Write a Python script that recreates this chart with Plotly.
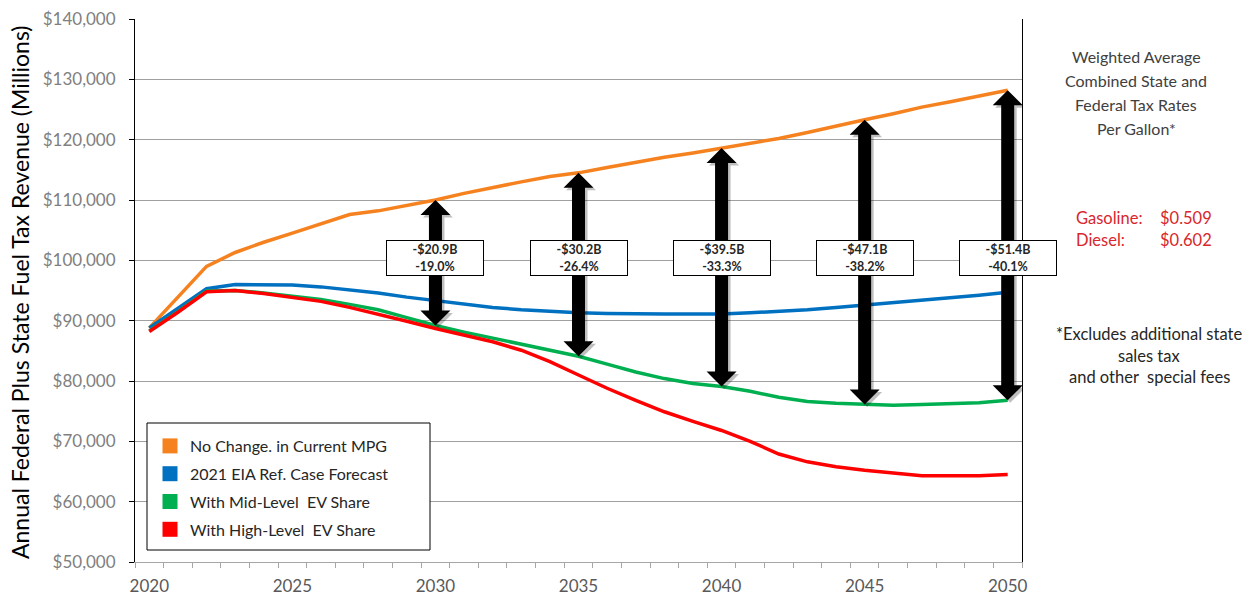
import plotly.graph_objects as go

years = list(range(2020, 2051))
no_change = [88800, 94000, 99000, 101300, 103000, 104500, 106100, 107600, 108200, 109100, 110000,
             111100, 112100, 113000, 113900, 114500, 115400, 116300, 117100, 117800, 118600,
             119300, 120200, 121200, 122300, 123300, 124300, 125400, 126300, 127200, 128200]
eia_ref = [88800, 92100, 95300, 96000, 96000, 95900, 95600, 95100, 94600, 93900, 93300,
           92700, 92200, 91800, 91500, 91300, 91200, 91100, 91100, 91100, 91100,
           91300, 91500, 91800, 92200, 92600, 92900, 93400, 93800, 94200, 94700]
mid_ev = [88300, 91500, 94900, 95000, 94600, 94100, 93500, 92700, 91800, 90500, 89200,
          88100, 87100, 86100, 85100, 84100, 82800, 81500, 80400, 79600, 79100,
          78300, 77300, 76600, 76300, 76100, 76000, 76100, 76200, 76400, 76800]
high_ev = [88200, 91400, 94800, 95000, 94500, 93900, 93200, 92200, 91100, 89900, 88700,
           87600, 86500, 85100, 83200, 81000, 78800, 76800, 74900, 73300, 71800,
           70000, 67900, 66600, 65800, 65200, 64700, 64300, 64300, 64300, 64500]

series_names = ["No Change. in Current MPG", "2021 EIA Ref. Case Forecast",
                "With Mid-Level  EV Share", "With High-Level  EV Share"]
series_vals = [no_change, eia_ref, mid_ev, high_ev]
colors = ["#F5821F", "#0070C0", "#00B050", "#FF0000"]

arrow_years = [2030, 2035, 2040, 2045, 2050]
gap_labels = ["-$20.9B", "-$30.2B", "-$39.5B", "-$47.1B", "-$51.4B"]
pct_labels = ["-19.0%", "-26.4%", "-33.3%", "-38.2%", "-40.1%"]

y_ticks = list(range(50000, 140001, 10000))
y_ticktext = [f"${v:,}" for v in y_ticks]
x_ticks = [2020, 2025, 2030, 2035, 2040, 2045, 2050]

rate_title = ["Weighted Average", "Combined State and", "Federal Tax Rates", "Per Gallon*"]
rate_names = ["Gasoline:", "Diesel:"]
rate_values = ["$0.509", "$0.602"]
footnote = ["*Excludes additional state", "sales tax", "and other  special fees"]

W, H = 1254, 601
L, R, T, B = 135, 1022, 19, 562
xr = [2019.5, 2050.5]
yr = [50000, 140000]
pxx = (R - L) / (xr[1] - xr[0])
pxy = (B - T) / (yr[1] - yr[0])
FONT = "Lato"

fig = go.Figure()
for name, vals, c in zip(series_names, series_vals, colors):
    fig.add_trace(go.Scatter(x=years, y=vals, mode="lines", line=dict(color=c, width=3.5),
                             showlegend=False, name=name))
for i, (name, c) in enumerate(zip(series_names, colors)):
    fig.add_trace(go.Scatter(x=[None], y=[None], mode="markers", name=name,
                             marker=dict(symbol="square", size=15, color=c),
                             legendgroup=str(i), showlegend=True))

shapes = []
annotations = []


def arrow_path(x, top, bot, ox=0.0, oy=0.0):
    hw = 15 / pxx
    sw = 6.5 / pxx
    hh = 15 / pxy
    x = x + ox / pxx
    top = top - oy / pxy
    bot = bot - oy / pxy
    pts = [(x - sw, top - hh), (x - hw, top - hh), (x, top), (x + hw, top - hh), (x + sw, top - hh),
           (x + sw, bot + hh), (x + hw, bot + hh), (x, bot), (x - hw, bot + hh), (x - sw, bot + hh)]
    return "M " + " L ".join(f"{a},{b}" for a, b in pts) + " Z"


for yv, g, p in zip(arrow_years, gap_labels, pct_labels):
    idx = years.index(yv)
    top = no_change[idx]
    bot = mid_ev[idx]
    shapes.append(dict(type="path", xref="x", yref="y", path=arrow_path(yv, top, bot, 2.5, 2.5),
                       fillcolor="rgba(0,0,0,0.25)", line=dict(width=0), layer="above"))
    shapes.append(dict(type="path", xref="x", yref="y", path=arrow_path(yv, top, bot),
                       fillcolor="black", line=dict(width=0), layer="above"))
    annotations.append(dict(x=yv, y=100350, xref="x", yref="y", showarrow=False,
                            text=f"<b>{g}</b><br><b>{p}</b>", align="center",
                            font=dict(family=FONT, size=12.5, color="#262626"),
                            bgcolor="white", bordercolor="black", borderwidth=1,
                            borderpad=2, width=92, height=30))


def px_x(px):
    return (px - L) / (R - L)


def px_y(py):
    return (B - py) / (B - T)


# legend box
shapes.append(dict(type="rect", xref="paper", yref="paper",
                   x0=px_x(147), x1=px_x(430), y0=px_y(550), y1=px_y(423),
                   fillcolor="white", line=dict(color="black", width=1), layer="above"))

annotations.append(dict(x=px_x(20), y=px_y(292), xref="paper", yref="paper", showarrow=False,
                        text="Annual Federal Plus State Fuel Tax Revenue (Millions)", textangle=-90,
                        font=dict(family=FONT, size=23, color="black"), xanchor="center", yanchor="middle"))
for i, line in enumerate(rate_title):
    annotations.append(dict(x=px_x(1136), y=px_y(56 + i * 24), xref="paper", yref="paper",
                            showarrow=False, text=line, align="center",
                            font=dict(family=FONT, size=16, color="#404040"),
                            xanchor="center", yanchor="middle"))
for i, (nm, vv) in enumerate(zip(rate_names, rate_values)):
    annotations.append(dict(x=px_x(1074), y=px_y(218 + i * 22), xref="paper", yref="paper",
                            showarrow=False, text=nm, align="left",
                            font=dict(family=FONT, size=16.5, color="#D9262C"),
                            xanchor="left", yanchor="middle"))
    annotations.append(dict(x=px_x(1158), y=px_y(218 + i * 22), xref="paper", yref="paper",
                            showarrow=False, text=vv, align="left",
                            font=dict(family=FONT, size=16.5, color="#D9262C"),
                            xanchor="left", yanchor="middle"))
for i, line in enumerate(footnote):
    annotations.append(dict(x=px_x(1149), y=px_y(334 + i * 21.5), xref="paper", yref="paper",
                            showarrow=False, text=line, align="center",
                            font=dict(family=FONT, size=16.5, color="#262626"),
                            xanchor="center", yanchor="middle"))

fig.update_layout(
    width=W, height=H,
    margin=dict(l=L, r=W - R, t=T, b=H - B, autoexpand=False),
    paper_bgcolor="white", plot_bgcolor="white",
    font=dict(family=FONT),
    shapes=shapes, annotations=annotations,
    legend=dict(x=px_x(150), y=px_y(429), xanchor="left", yanchor="top",
                bgcolor="rgba(0,0,0,0)", borderwidth=0, tracegroupgap=4,
                font=dict(family=FONT, size=16, color="#262626")),
    xaxis=dict(range=xr, tickvals=x_ticks, ticktext=[str(v) for v in x_ticks], automargin=False,
               showgrid=False, zeroline=False, showline=True, linecolor="#A6A6A6", linewidth=1,
               ticks="", ticklabelstandoff=9,
               tickfont=dict(family=FONT, size=17, color="#595959"),
               minor=dict(tick0=2019.5, dtick=1, ticks="outside", ticklen=5, tickcolor="#A6A6A6",
                          showgrid=False)),
    yaxis=dict(range=yr, tickvals=y_ticks, ticktext=y_ticktext, automargin=False,
               showgrid=True, gridcolor="#A0A0A0", gridwidth=1, zeroline=False,
               showline=True, linecolor="black", linewidth=1, mirror=True,
               ticks="outside", ticklen=5, tickcolor="black", ticklabelstandoff=10,
               tickfont=dict(family=FONT, size=17, color="#808080")),
)

fig.write_html("out.html")
